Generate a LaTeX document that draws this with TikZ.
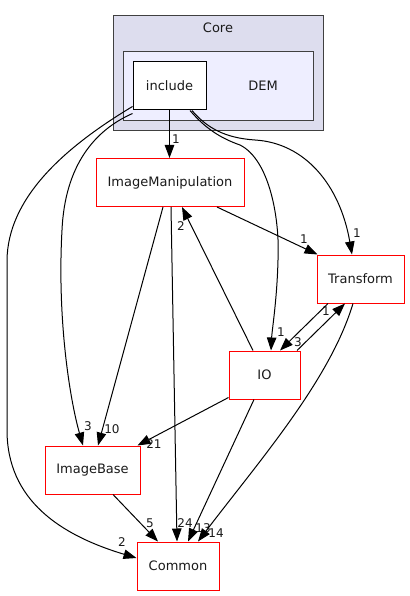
\documentclass[tikz,border=0pt]{standalone}
\usepackage{fontspec}
\setmainfont{DejaVu Sans}
\usetikzlibrary{arrows.meta}
\definecolor{corefill}{HTML}{DDDDEE}
\definecolor{demfill}{HTML}{EEEEFF}
\definecolor{clborder}{HTML}{404040}
\definecolor{txt}{HTML}{1A1A1A}
\tikzset{
  dirbox/.style={draw=red, line width=1pt, fill=white, inner sep=0pt, minimum height=48pt,
    font=\fontsize{13}{15}\selectfont, text=txt},
  incbox/.style={draw=black, line width=1pt, fill=white, inner sep=0pt, minimum width=73pt, minimum height=48pt,
    font=\fontsize{13}{15}\selectfont, text=txt},
  cluster/.style={draw=clborder, line width=1pt},
  cltext/.style={font=\fontsize{13}{15}\selectfont, text=txt},
  dep/.style={draw=black, line width=1pt, -{Triangle[length=13pt 0 0,width=9.5pt 0 0]}},
  elabel/.style={font=\fontsize{12}{14}\selectfont, text=txt, inner sep=0pt}
}
\begin{document}
\begin{tikzpicture}[x=1pt,y=-1pt]
\useasboundingbox (0,0) rectangle (409,596);
% clusters
\draw[cluster, fill=corefill] (113,16) rectangle (323,131);
\node[cltext] (coreLabel) at (218,28) {Core};
\draw[cluster, fill=demfill] (123,52) rectangle (313,121);
\node[cltext] (demLabel) at (263,86) {DEM};
% nodes
\node[incbox] (include) at (169.5,86) {include};
\node[dirbox, minimum width=148pt] (imgman) at (170,182.5) {ImageManipulation};
\node[dirbox, minimum width=87pt] (transform) at (360.5,279) {Transform};
\node[dirbox, minimum width=71pt] (io) at (264.5,375) {IO};
\node[dirbox, minimum width=95pt] (imgbase) at (92.5,470) {ImageBase};
\node[dirbox, minimum width=82pt] (common) at (178,566) {Common};
% edges
\draw[dep] (include.south) -- (include.south |- imgman.north);
\node[elabel] (l1) at (176,139) {1};

\draw[dep] ([xshift=22.5pt]include.south) .. controls (207,128) and (225,138) .. (255,140)
  .. controls (305,143) and (340,185) .. ([xshift=-8.5pt]transform.north);
\node[elabel] (l2) at (357,233) {1};

\draw[dep] ([xshift=20.5pt]include.south) .. controls (205,128) and (220,138) .. (240,145)
  .. controls (270,160) and (280,220) .. (278,260)
  .. controls (277,300) and (272,330) .. ([xshift=6.5pt]io.north);
\node[elabel] (l3) at (281,332) {1};

\draw[dep] ([yshift=-3pt]include.south west) .. controls (95,130) and (65,165) .. (62,230)
  .. controls (57,320) and (70,400) .. ([xshift=-9.5pt]imgbase.north);
\node[elabel] (l4) at (88,426) {3};

\draw[dep] ([yshift=4pt]include.south west) .. controls (60,150) and (8,200) .. (7,260)
  -- (7,430) .. controls (7,500) and (60,535) .. ([yshift=8pt]common.west);
\node[elabel] (l5) at (122,542) {2};

\draw[dep] ([xshift=-7pt]imgman.south) -- ([xshift=5.5pt]imgbase.north);
\node[elabel] (l6) at (112,429) {10};

\draw[dep] ([xshift=1pt]imgman.south) -- ([xshift=-1pt]common.north);
\node[elabel] (l7) at (185,523) {24};

\draw[dep] ([xshift=47pt]imgman.south) -- ([xshift=1pt]transform.north west);
\node[elabel] (l8) at (304,239) {1};

\draw[dep] ([xshift=-11.5pt]io.north) -- ([xshift=12pt]imgman.south);
\node[elabel] (l9) at (181,226) {2};

\draw[dep] ([xshift=32.5pt]io.north) -- ([xshift=-15.5pt]transform.south);
\node[elabel] (l10) at (326,311) {1};

\draw[dep] ([xshift=-32.5pt]transform.south) -- ([xshift=15.5pt]io.north);
\node[elabel] (l11) at (298,342) {3};

\draw[dep] ([yshift=2pt]io.south west) -- ([xshift=-3pt]imgbase.north east);
\node[elabel] (l12) at (154,444) {21};

\draw[dep] ([xshift=-10.5pt]io.south) -- ([xshift=10pt]common.north);
\node[elabel] (l13) at (203,528) {13};

\draw[dep] ([xshift=-7.5pt]transform.south) .. controls (330,380) and (260,460) .. ([xshift=20pt]common.north);
\node[elabel] (l14) at (216,533) {14};

\draw[dep] ([xshift=20.5pt]imgbase.south) -- ([xshift=-20pt]common.north);
\node[elabel] (l15) at (150,523) {5};
\end{tikzpicture}
\end{document}
